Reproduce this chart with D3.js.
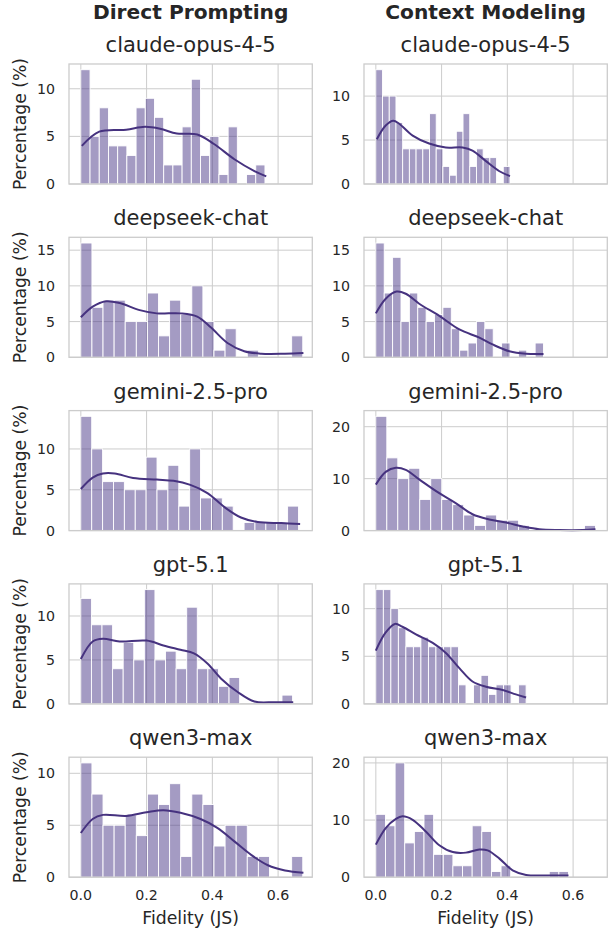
<!DOCTYPE html>
<html>
<head>
<meta charset="utf-8">
<script src="https://cdn.jsdelivr.net/npm/d3@7"></script>
<style>
  body { margin: 0; background: #fff; }
  svg { font-family: "DejaVu Sans", sans-serif; }
</style>
</head>
<body>
<svg id="chart" width="611" height="932"></svg>
<script>
var methods = ["Direct Prompting", "Context Modeling"];
var models = ["claude-opus-4-5", "deepseek-chat", "gemini-2.5-pro", "gpt-5.1", "qwen3-max"];
var xTicks = [0.0, 0.2, 0.4, 0.6];
var dpYTicks = [[0, 5, 10], [0, 5, 10, 15], [0, 5, 10], [0, 5, 10], [0, 5, 10]];
var cmYTicks = [[0, 5, 10], [0, 5, 10, 15], [0, 10, 20], [0, 5, 10], [0, 10, 20]];

// upper edge of the 20 histogram bins (bins start at 0)
var dpBinMax = [0.56, 0.675, 0.662, 0.644, 0.675];
var cmBinMax = [0.408, 0.51, 0.668, 0.457, 0.586];

// bar heights (%), 20 bins per panel
var dpCounts = [
	[12, 5, 8, 4, 4, 3, 8, 9, 7, 2, 2, 6, 11, 3, 5, 1, 6, 0, 1, 2],
	[16, 7, 8, 8, 5, 5, 9, 3, 8, 6, 10, 5, 1, 4, 0, 1, 0, 0, 0, 3],
	[14, 10, 6, 6, 5, 5, 9, 5, 8, 3, 10, 4, 4, 3, 0, 1, 1, 1, 1, 3],
	[12, 9, 9, 4, 7, 5, 13, 5, 6, 4, 11, 4, 4, 2, 3, 0, 0, 0, 0, 1],
	[11, 8, 5, 5, 6, 4, 8, 7, 9, 2, 8, 7, 3, 5, 5, 2, 2, 0, 0, 2]
];
var cmCounts = [
	[13, 10, 10, 7, 4, 4, 4, 4, 8, 4, 2, 1, 6, 8, 2, 4, 3, 3, 0, 2],
	[16, 9, 14, 5, 9, 7, 5, 6, 7, 4, 1, 2, 5, 4, 0, 2, 0, 1, 0, 2],
	[22, 14, 10, 12, 6, 10, 6, 5, 3, 1, 3, 2, 2, 1, 0, 0, 0, 0, 0, 1],
	[12, 12, 10, 8, 6, 6, 7, 6, 6, 6, 6, 2, 0, 2, 3, 1, 2, 2, 0, 2],
	[11, 9, 20, 6, 8, 11, 4, 4, 2, 2, 9, 8, 1, 2, 0, 0, 0, 0, 1, 1]
];

// KDE curves: [fidelity, percentage]
var dpKde = [
	[[0.003, 4.0], [0.056, 5.5], [0.138, 5.7], [0.195, 6.0], [0.241, 5.8], [0.292, 5.3], [0.354, 5.2], [0.405, 4.2], [0.467, 2.6], [0.528, 1.35], [0.564, 0.8]],
	[[0.0, 5.6], [0.036, 7.1], [0.077, 7.85], [0.118, 7.6], [0.179, 6.6], [0.231, 6.15], [0.303, 6.15], [0.354, 5.7], [0.395, 4.2], [0.446, 2.0], [0.497, 0.85], [0.549, 0.5], [0.621, 0.5], [0.677, 0.6]],
	[[0.0, 5.1], [0.036, 6.5], [0.067, 7.0], [0.103, 7.0], [0.159, 6.45], [0.231, 6.25], [0.282, 6.1], [0.333, 5.6], [0.385, 4.6], [0.436, 2.9], [0.487, 1.6], [0.538, 1.05], [0.610, 0.92], [0.667, 0.8]],
	[[0.0, 5.1], [0.036, 7.1], [0.067, 7.4], [0.118, 7.1], [0.200, 7.2], [0.251, 6.65], [0.303, 6.15], [0.344, 5.75], [0.385, 4.6], [0.426, 2.9], [0.477, 1.35], [0.528, 0.27], [0.590, 0.2], [0.646, 0.2]],
	[[0.0, 4.25], [0.036, 5.6], [0.067, 6.0], [0.138, 5.9], [0.200, 6.25], [0.251, 6.45], [0.303, 6.2], [0.364, 5.6], [0.415, 4.75], [0.467, 3.45], [0.518, 2.15], [0.569, 1.15], [0.621, 0.65], [0.677, 0.43]]
];
var cmKde = [
	[[0.003, 5.1], [0.030, 6.65], [0.053, 7.2], [0.071, 6.85], [0.112, 5.5], [0.162, 4.6], [0.213, 4.15], [0.264, 4.15], [0.294, 3.8], [0.335, 2.6], [0.376, 1.45], [0.408, 0.9]],
	[[0.0, 6.15], [0.030, 8.2], [0.063, 9.2], [0.091, 8.9], [0.132, 7.5], [0.193, 5.8], [0.254, 3.9], [0.315, 2.75], [0.355, 1.8], [0.406, 0.85], [0.457, 0.5], [0.510, 0.47]],
	[[0.0, 8.85], [0.030, 11.3], [0.061, 12.1], [0.091, 11.7], [0.132, 9.85], [0.193, 7.2], [0.244, 5.25], [0.294, 3.15], [0.345, 2.15], [0.396, 1.55], [0.447, 0.8], [0.497, 0.25], [0.558, 0.1], [0.629, 0.1], [0.668, 0.25]],
	[[0.0, 5.6], [0.030, 7.5], [0.058, 8.4], [0.081, 8.1], [0.122, 7.3], [0.173, 6.4], [0.213, 5.35], [0.254, 3.75], [0.294, 2.35], [0.335, 1.8], [0.386, 1.45], [0.426, 1.0], [0.457, 0.67]],
	[[0.0, 5.7], [0.030, 8.6], [0.061, 10.2], [0.081, 10.65], [0.112, 10.05], [0.152, 8.0], [0.193, 5.6], [0.234, 4.4], [0.274, 4.3], [0.315, 4.85], [0.340, 4.7], [0.376, 3.25], [0.416, 1.2], [0.457, 0.4], [0.518, 0.3], [0.586, 0.3]]
];

var svg = d3.select("#chart");
var colLeft = [69, 364];
var panelW = 243.3, panelH = 120;
var rowTop = 64, rowStep = 173.3;
var textColor = "#262626", gridColor = "#cccccc";
var barColor = "#4a3788", lineColor = "#46327f";

var x = d3.scaleLinear().domain([-0.036, 0.704]).range([0, panelW]);

var line = d3.line()
	.curve(d3.curveCatmullRom)
	.x((d) => { return x(d[0]); })
	.y((d) => { return d[1]; });

// column headers
methods.forEach((m, c) => {
	svg.append("text")
		.attr("x", colLeft[c] + panelW / 2)
		.attr("y", 19)
		.attr("text-anchor", "middle")
		.attr("font-size", "20.2px")
		.attr("font-weight", "bold")
		.attr("fill", textColor)
		.text(m);
});

models.forEach((model, r) => {
	[dpCounts[r], cmCounts[r]].forEach((counts, c) => {
		var binMax = c === 0 ? dpBinMax[r] : cmBinMax[r];
		var kde = c === 0 ? dpKde[r] : cmKde[r];
		var yTicks = c === 0 ? dpYTicks[r] : cmYTicks[r];
		var bw = binMax / counts.length;
		var y = d3.scaleLinear().domain([0, d3.max(counts) * 1.05]).range([panelH, 0]);

		var g = svg.append("g")
			.attr("transform", "translate(" + colLeft[c] + "," + (rowTop + r * rowStep) + ")");

		// grid
		g.selectAll(".gx")
			.data(xTicks)
			.enter().append("line")
				.attr("x1", (d) => { return x(d); })
				.attr("x2", (d) => { return x(d); })
				.attr("y1", 0).attr("y2", panelH)
				.attr("stroke", gridColor).attr("stroke-width", 1);

		g.selectAll(".gy")
			.data(yTicks)
			.enter().append("line")
				.attr("x1", 0).attr("x2", panelW)
				.attr("y1", (d) => { return y(d); })
				.attr("y2", (d) => { return y(d); })
				.attr("stroke", gridColor).attr("stroke-width", 1);

		// bars
		g.selectAll(".bar")
			.data(counts.map((v, i) => { return {x0: i * bw, x1: (i + 1) * bw, v: v}; }).filter((d) => { return d.v > 0; }))
			.enter().append("rect")
				.attr("x", (d) => { return x(d.x0); })
				.attr("width", (d) => { return x(d.x1) - x(d.x0); })
				.attr("y", (d) => { return y(d.v); })
				.attr("height", (d) => { return panelH - y(d.v); })
				.attr("fill", barColor)
				.attr("fill-opacity", 0.5)
				.attr("stroke", "#ffffff")
				.attr("stroke-width", 0.9);

		// kde
		g.append("path")
			.attr("d", line(kde.map((p) => { return [p[0], y(p[1])]; })))
			.attr("fill", "none")
			.attr("stroke", lineColor)
			.attr("stroke-width", 2);

		// frame
		g.append("rect")
			.attr("width", panelW).attr("height", panelH)
			.attr("fill", "none")
			.attr("stroke", gridColor)
			.attr("stroke-width", 1.3);

		// y tick labels
		g.selectAll(".yt")
			.data(yTicks)
			.enter().append("text")
				.attr("x", -14)
				.attr("y", (d) => { return y(d); })
				.attr("dy", "0.36em")
				.attr("text-anchor", "end")
				.attr("font-size", "14.2px")
				.attr("fill", textColor)
				.text((d) => { return d; });

		// title
		g.append("text")
			.attr("x", panelW / 2)
			.attr("y", -12)
			.attr("text-anchor", "middle")
			.attr("font-size", "21px")
			.attr("fill", textColor)
			.text(model);

		if (c === 0) {
			g.append("text")
				.attr("transform", "translate(" + -43 + "," + panelH / 2 + ") rotate(-90)")
				.attr("text-anchor", "middle")
				.attr("font-size", "17.2px")
				.attr("fill", textColor)
				.text("Percentage (%)");
		}

		if (r === models.length - 1) {
			g.selectAll(".xt")
				.data(xTicks)
				.enter().append("text")
					.attr("x", (d) => { return x(d); })
					.attr("y", panelH + 22.5)
					.attr("text-anchor", "middle")
					.attr("font-size", "14.2px")
					.attr("fill", textColor)
					.text((d) => { return d.toFixed(1); });

			g.append("text")
				.attr("x", panelW / 2)
				.attr("y", panelH + 47)
				.attr("text-anchor", "middle")
				.attr("font-size", "17.3px")
				.attr("fill", textColor)
				.text("Fidelity (JS)");
		}
	});
});
</script>
</body>
</html>
